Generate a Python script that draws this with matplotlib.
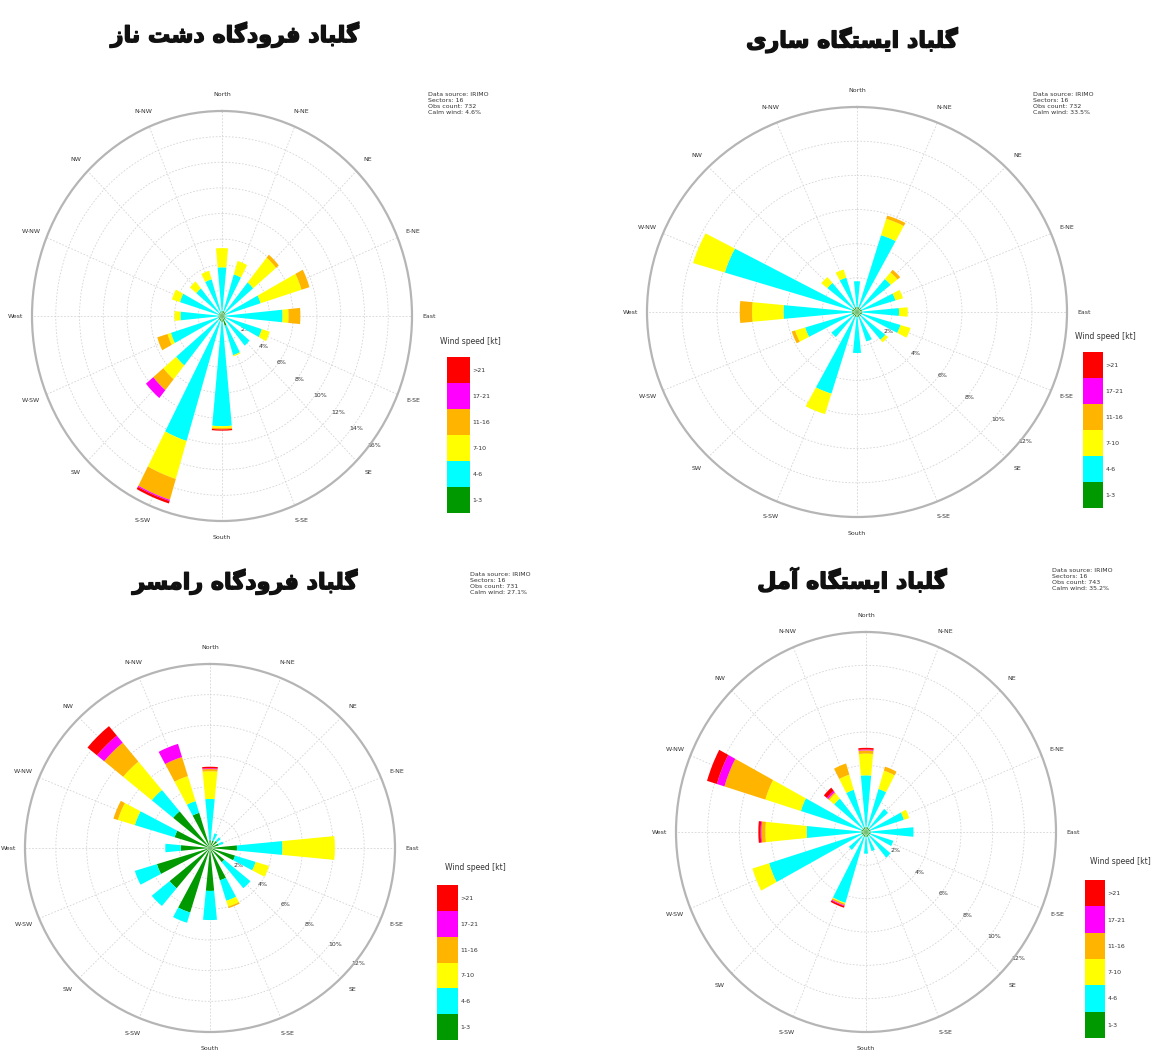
import numpy as np
import matplotlib
matplotlib.use("Agg")
import matplotlib as mpl
import matplotlib.pyplot as plt
import matplotlib.patheffects as pe
from matplotlib.colors import ListedColormap, BoundaryNorm

W, H, DPI = 1167, 1050, 100

directions = ["North", "N-NE", "NE", "E-NE", "East", "E-SE", "SE", "S-SE",
              "South", "S-SW", "SW", "W-SW", "West", "W-NW", "NW", "N-NW"]
speed_bins = ["1-3", "4-6", "7-10", "11-16", "17-21", ">21"]
bin_colors = ["#009a00", "#00ffff", "#ffff00", "#ffb400", "#ff00ff", "#ff0000"]

# Frequency (%) per direction (N, NNE, ... NNW) for each speed class
# Dasht-e Naz airport
dashtnaz_1_3 = [0.4, 0.4, 0.4, 0.3, 0.3, 0.3, 0.4, 0.8, 0.5, 0.4, 0.4, 0.3, 0.3, 0.3, 0.3, 0.3]
dashtnaz_4_6 = [3.4, 3.0, 3.0, 3.1, 4.8, 3.2, 2.6, 2.4, 8.1, 9.8, 4.6, 4.2, 3.2, 3.4, 2.5, 2.7]
dashtnaz_7_10 = [1.5, 1.1, 2.5, 3.6, 0.5, 0.7, 0.0, 0.1, 0.15, 3.1, 1.4, 0.3, 0.5, 0.7, 0.7, 0.7]
dashtnaz_11_16 = [0.0, 0.0, 0.3, 0.7, 1.0, 0.0, 0.0, 0.0, 0.1, 1.7, 1.1, 0.9, 0.0, 0.0, 0.0, 0.0]
dashtnaz_17_21 = [0.0, 0.0, 0.0, 0.0, 0.0, 0.0, 0.0, 0.0, 0.0, 0.1, 0.8, 0.0, 0.0, 0.0, 0.0, 0.0]
dashtnaz_gt21 = [0.0, 0.0, 0.0, 0.0, 0.0, 0.0, 0.0, 0.0, 0.1, 0.2, 0.0, 0.0, 0.0, 0.0, 0.0, 0.0]

# Sari station
sari_1_3 = [0.3] * 16
sari_4_6 = [1.5, 4.4, 2.2, 2.0, 2.1, 2.3, 1.8, 1.5, 2.1, 4.7, 1.6, 2.8, 3.9, 7.6, 1.9, 1.8]
sari_7_10 = [0.0, 1.0, 0.5, 0.45, 0.5, 0.6, 0.2, 0.0, 0.0, 1.25, 0.0, 0.6, 1.8, 1.9, 0.45, 0.5]
sari_11_16 = [0.0, 0.2, 0.2, 0.0, 0.0, 0.0, 0.0, 0.0, 0.0, 0.0, 0.0, 0.2, 0.7, 0.0, 0.0, 0.0]
sari_17_21 = [0.0] * 16
sari_gt21 = [0.0] * 16

# Ramsar airport
ramsar_1_3 = [0.5, 0.5, 0.6, 0.6, 1.75, 1.7, 1.2, 2.2, 2.8, 4.4, 3.4, 3.6, 1.9, 2.4, 3.1, 2.4]
ramsar_4_6 = [2.7, 0.5, 0.3, 0.3, 2.95, 1.4, 2.2, 1.4, 1.9, 0.7, 1.5, 1.5, 1.0, 2.7, 1.8, 0.8]
ramsar_7_10 = [1.8, 0.0, 0.0, 0.0, 3.4, 0.9, 0.0, 0.4, 0.0, 0.0, 0.0, 0.0, 0.0, 1.15, 2.4, 1.7]
ramsar_11_16 = [0.15, 0.0, 0.0, 0.0, 0.0, 0.0, 0.0, 0.1, 0.0, 0.0, 0.0, 0.0, 0.0, 0.3, 1.6, 1.3]
ramsar_17_21 = [0.05, 0.0, 0.0, 0.0, 0.0, 0.0, 0.0, 0.0, 0.0, 0.0, 0.0, 0.0, 0.0, 0.0, 0.6, 0.9]
ramsar_gt21 = [0.1, 0.0, 0.0, 0.0, 0.0, 0.0, 0.0, 0.0, 0.0, 0.0, 0.0, 0.0, 0.0, 0.0, 0.8, 0.0]

# Amol station
amol_1_3 = [0.3] * 16
amol_4_6 = [3.1, 2.4, 1.5, 2.2, 2.7, 1.5, 1.7, 0.9, 1.0, 4.15, 1.1, 6.1, 3.45, 4.0, 2.3, 2.35]
amol_7_10 = [1.3, 1.15, 0.0, 0.35, 0.0, 0.0, 0.0, 0.0, 0.0, 0.05, 0.0, 1.1, 2.6, 2.35, 0.4, 0.95]
amol_11_16 = [0.2, 0.25, 0.0, 0.0, 0.0, 0.0, 0.0, 0.0, 0.0, 0.1, 0.0, 0.0, 0.25, 2.7, 0.1, 0.7]
amol_17_21 = [0.05, 0.0, 0.0, 0.0, 0.0, 0.0, 0.0, 0.0, 0.0, 0.05, 0.0, 0.0, 0.05, 0.5, 0.1, 0.0]
amol_gt21 = [0.1, 0.0, 0.0, 0.0, 0.0, 0.0, 0.0, 0.0, 0.0, 0.1, 0.0, 0.0, 0.15, 0.65, 0.25, 0.0]

titles = ["گلباد فرودگاه دشت ناز", "گلباد ایستگاه ساری",
          "گلباد فرودگاه رامسر", "گلباد ایستگاه آمل"]
info_lines = [
    ["Data source: IRIMO", "Sectors: 16", "Obs count: 732", "Calm wind: 4.6%"],
    ["Data source: IRIMO", "Sectors: 16", "Obs count: 732", "Calm wind: 33.5%"],
    ["Data source: IRIMO", "Sectors: 16", "Obs count: 731", "Calm wind: 27.1%"],
    ["Data source: IRIMO", "Sectors: 16", "Obs count: 743", "Calm wind: 35.2%"],
]
r_max = [16, 12, 12, 12]
r_step = [2, 2, 2, 2]

# Arabic-script contextual forms: isolated, final, initial, medial
_FORMS = {
    "ا": ("\uFE8D", "\uFE8E", None, None),
    "آ": ("\uFE81", "\uFE82", None, None),
    "ب": ("\uFE8F", "\uFE90", "\uFE91", "\uFE92"),
    "ت": ("\uFE95", "\uFE96", "\uFE97", "\uFE98"),
    "د": ("\uFEA9", "\uFEAA", None, None),
    "ر": ("\uFEAD", "\uFEAE", None, None),
    "ز": ("\uFEAF", "\uFEB0", None, None),
    "س": ("\uFEB1", "\uFEB2", "\uFEB3", "\uFEB4"),
    "ش": ("\uFEB5", "\uFEB6", "\uFEB7", "\uFEB8"),
    "ف": ("\uFED1", "\uFED2", "\uFED3", "\uFED4"),
    "ل": ("\uFEDD", "\uFEDE", "\uFEDF", "\uFEE0"),
    "م": ("\uFEE1", "\uFEE2", "\uFEE3", "\uFEE4"),
    "ن": ("\uFEE5", "\uFEE6", "\uFEE7", "\uFEE8"),
    "ه": ("\uFEE9", "\uFEEA", "\uFEEB", "\uFEEC"),
    "و": ("\uFEED", "\uFEEE", None, None),
    "گ": ("\uFB92", "\uFB93", "\uFB94", "\uFB95"),
    "ی": ("\uFBFC", "\uFBFD", "\uFBFE", "\uFBFF"),
}


def shape_rtl(text):
    """Join letters with their contextual forms and lay them out right-to-left."""
    out = []
    for i, ch in enumerate(text):
        if ch not in _FORMS:
            out.append(ch)
            continue
        prev = text[i - 1] if i > 0 else ""
        nxt = text[i + 1] if i + 1 < len(text) else ""
        joins_prev = prev in _FORMS and _FORMS[prev][2] is not None
        joins_next = nxt in _FORMS and _FORMS[ch][2] is not None
        iso, fin, ini, med = _FORMS[ch]
        if joins_prev and joins_next:
            out.append(med)
        elif joins_prev:
            out.append(fin)
        elif joins_next:
            out.append(ini)
        else:
            out.append(iso)
    return "".join(reversed(out))


fig = plt.figure(figsize=(W / DPI, H / DPI), dpi=DPI)
fig.patch.set_facecolor("white")


def px_rect(x0, y0, x1, y1):
    return [x0 / W, 1 - y1 / H, (x1 - x0) / W, (y1 - y0) / H]


def draw_rose(center, half, series, rmax, step):
    cx, cy = center
    hw, hh = half
    ax = fig.add_axes(px_rect(cx - hw, cy - hh, cx + hw, cy + hh), projection="polar")
    ax.set_theta_zero_location("N")
    ax.set_theta_direction(-1)
    ax.set_aspect("auto")
    theta = np.deg2rad(np.arange(16) * 22.5)
    base = np.zeros(16)
    for vals, col in zip(series, bin_colors):
        v = np.asarray(vals, dtype=float)
        ax.bar(theta, v, width=np.deg2rad(11), bottom=base, color=col,
               edgecolor="none", linewidth=0, zorder=2)
        base += v
    ax.set_ylim(0, rmax)
    rings = np.arange(step, rmax + 0.001, step)
    ax.set_rgrids(rings, labels=[f"{int(r)}%" for r in rings], angle=130,
                  fontsize=4.5, color="#333333")
    ax.set_thetagrids(np.arange(0, 360, 22.5), labels=directions,
                      fontsize=4.5, color="#333333")
    ax.tick_params(axis="x", pad=1.5)
    ax.grid(True, color="#d4d4d4", linestyle=(0, (2, 2)), linewidth=0.6)
    ax.spines["polar"].set_color("#b5b5b5")
    ax.spines["polar"].set_linewidth(1.6)
    ax.set_axisbelow(True)
    return ax


def draw_legend(bar_box, title_xy):
    cax = fig.add_axes(px_rect(*bar_box))
    cmap = ListedColormap(bin_colors)
    norm = BoundaryNorm(np.arange(len(bin_colors) + 1), len(bin_colors))
    cb = mpl.colorbar.ColorbarBase(cax, cmap=cmap, norm=norm,
                                   ticks=np.arange(len(bin_colors)) + 0.5)
    cb.set_ticklabels(speed_bins)
    cb.outline.set_visible(False)
    cb.minorticks_off()
    cax.tick_params(which="both", length=0, labelsize=4.5, pad=2, colors="#333333")
    fig.text(title_xy[0] / W, 1 - title_xy[1] / H, "Wind speed [kt]",
             fontsize=5.5, color="#333333", ha="center", va="center")


stations = [
    [dashtnaz_1_3, dashtnaz_4_6, dashtnaz_7_10, dashtnaz_11_16, dashtnaz_17_21, dashtnaz_gt21],
    [sari_1_3, sari_4_6, sari_7_10, sari_11_16, sari_17_21, sari_gt21],
    [ramsar_1_3, ramsar_4_6, ramsar_7_10, ramsar_11_16, ramsar_17_21, ramsar_gt21],
    [amol_1_3, amol_4_6, amol_7_10, amol_11_16, amol_17_21, amol_gt21],
]

centers = [(222, 316), (857, 312), (210, 848), (866, 832)]
halves = [(190, 205), (210, 205), (185, 184), (190, 200)]
legend_bars = [(447, 357, 470, 513), (1083, 352, 1103, 508),
               (437, 885, 458, 1040), (1085, 880, 1105, 1038)]
legend_titles = [(470, 341), (1105, 337), (475, 868), (1120, 862)]
info_pos = [(428, 92), (1033, 92), (470, 572), (1052, 568)]
title_pos = [(235, 35), (852, 40), (245, 582), (852, 580)]

for i in range(4):
    draw_rose(centers[i], halves[i], stations[i], r_max[i], r_step[i])
    draw_legend(legend_bars[i], legend_titles[i])
    fig.text(info_pos[i][0] / W, 1 - info_pos[i][1] / H, "\n".join(info_lines[i]),
             fontsize=4.5, color="#333333", ha="left", va="top", linespacing=1.25)
    fig.text(title_pos[i][0] / W, 1 - title_pos[i][1] / H, shape_rtl(titles[i]),
             fontsize=16, fontweight="bold", family=["DejaVu Sans"],
             ha="center", va="center", color="#111111",
             path_effects=[pe.withStroke(linewidth=1.0, foreground="#111111")])

fig.savefig("out.png", dpi=DPI, facecolor="white")
